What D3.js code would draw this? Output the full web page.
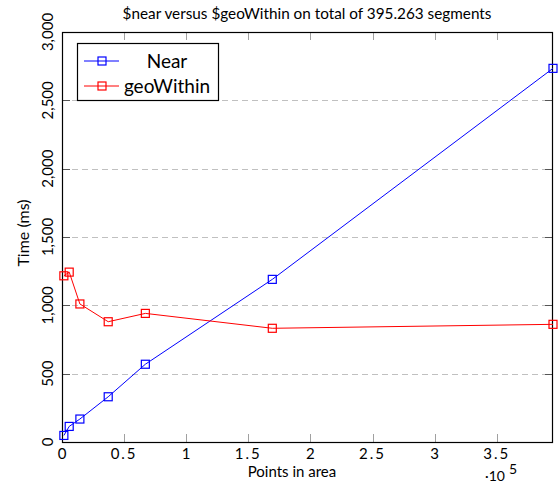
<!DOCTYPE html>
<html>
<head>
<meta charset="utf-8">
<script src="https://cdn.jsdelivr.net/npm/d3@7"></script>
<style>
  body { margin: 0; background: #fff; }
  text { font-family: Lato, "Open Sans", sans-serif; fill: #000; }
</style>
</head>
<body>
<svg id="chart" width="560" height="483"></svg>
<script>
// data
const pointsInArea = [1500, 5800, 14400, 37200, 67100, 169300, 395263];
const nearMs = [48, 114, 168, 331, 569, 1190, 2734];
const geoWithinMs = [1216, 1243, 1010, 880, 941, 832, 861];
const xTicks = [0, 50000, 100000, 150000, 200000, 250000, 300000, 350000];
const yTicks = [0, 500, 1000, 1500, 2000, 2500, 3000];
const seriesNames = ["Near", "geoWithin"];
const seriesColors = ["#0000ff", "#ff0000"];

const margin = {top: 32, right: 7, bottom: 41, left: 62};
const width = 560, height = 483;

const svg = d3.select("#chart");

const x = d3.scaleLinear()
    .domain([0, 395263])
    .range([margin.left, width - margin.right]);
const y = d3.scaleLinear()
    .domain([0, 3000])
    .range([height - margin.bottom, margin.top]);

// dashed grid
svg.append("g").selectAll("line")
    .data(yTicks.filter(d => d > 0 && d < 3000))
    .enter().append("line")
    .attr("x1", x.range()[0]).attr("x2", x.range()[1])
    .attr("y1", d => Math.round(y(d)) + 0.5).attr("y2", d => Math.round(y(d)) + 0.5)
    .attr("stroke", "#c0c0c0")
    .attr("stroke-dasharray", "6,4");

// inner tick marks (x: bottom + top, y: left + right)
const tickLen = 8;
const xt = svg.append("g").attr("stroke", "#a0a0a0");
xTicks.filter(d => d > 0).forEach(d => {
    const px = Math.round(x(d)) + 0.5;
    xt.append("line").attr("x1", px).attr("x2", px)
        .attr("y1", y.range()[0]).attr("y2", y.range()[0] - tickLen);
    xt.append("line").attr("x1", px).attr("x2", px)
        .attr("y1", y.range()[1]).attr("y2", y.range()[1] + tickLen);
});
const yt = svg.append("g").attr("stroke", "#555");
yTicks.filter(d => d > 0 && d < 3000).forEach(d => {
    const py = Math.round(y(d)) + 0.5;
    yt.append("line").attr("x1", x.range()[0]).attr("x2", x.range()[0] + tickLen)
        .attr("y1", py).attr("y2", py);
    yt.append("line").attr("x1", x.range()[1]).attr("x2", x.range()[1] - tickLen)
        .attr("y1", py).attr("y2", py);
});

// frame
svg.append("rect")
    .attr("x", x.range()[0] + 0.5).attr("y", y.range()[1] + 0.5)
    .attr("width", x.range()[1] - x.range()[0] - 1)
    .attr("height", y.range()[0] - y.range()[1])
    .attr("fill", "none").attr("stroke", "#000").attr("stroke-width", 1.2);

// tick labels
svg.append("g").selectAll("text")
    .data(xTicks)
    .enter().append("text")
    .attr("x", d => x(d)).attr("y", 459)
    .attr("text-anchor", "middle")
    .attr("font-size", 15)
    .attr("letter-spacing", d => d % 100000 ? 2 : 0)
    .text(d => d3.format("")(d / 100000));

svg.append("g").selectAll("text")
    .data(yTicks)
    .enter().append("text")
    .attr("transform", d => `translate(53,${y(d)}) rotate(-90)`)
    .attr("text-anchor", "middle")
    .attr("font-size", 15)
    .text(d => d3.format(",")(d));

// axis titles
svg.append("text")
    .attr("x", 307).attr("y", 19)
    .attr("text-anchor", "middle")
    .attr("font-size", 15.3)
    .text("$near versus $geoWithin on total of 395.263 segments");
svg.append("text")
    .attr("x", 292).attr("y", 477)
    .attr("text-anchor", "middle")
    .attr("font-size", 15)
    .text("Points in area");
svg.append("text")
    .attr("transform", "translate(29,233) rotate(-90)")
    .attr("text-anchor", "middle")
    .attr("font-size", 16)
    .text("Time (ms)");
const exp = svg.append("text").attr("x", 485).attr("y", 481).attr("font-size", 14);
exp.append("tspan").text("·10");
exp.append("tspan").attr("dx", 4).attr("dy", -7).attr("font-size", 14).text("5");

// series
const seriesData = [nearMs, geoWithinMs];
const line = d3.line()
    .x((d, i) => x(pointsInArea[i]))
    .y(d => y(d));
const mark = 8;

seriesData.forEach((vals, s) => {
    const g = svg.append("g");
    g.append("path")
        .datum(vals)
        .attr("d", line)
        .attr("fill", "none")
        .attr("stroke", seriesColors[s])
        .attr("stroke-width", 1);
    g.selectAll("rect")
        .data(vals)
        .enter().append("rect")
        .attr("x", (d, i) => x(pointsInArea[i]) - mark / 2)
        .attr("y", d => y(d) - mark / 2)
        .attr("width", mark).attr("height", mark)
        .attr("fill", "none")
        .attr("stroke", seriesColors[s])
        .attr("stroke-width", 1.2);
});

// legend
const legend = svg.append("g");
legend.append("rect")
    .attr("x", 77.5).attr("y", 43.5)
    .attr("width", 141).attr("height", 57)
    .attr("fill", "#fff").attr("stroke", "#000").attr("stroke-width", 1.2);
seriesNames.forEach((name, s) => {
    const ly = 61 + s * 25;
    legend.append("line")
        .attr("x1", 84).attr("x2", 119)
        .attr("y1", ly).attr("y2", ly)
        .attr("stroke", seriesColors[s]);
    legend.append("rect")
        .attr("x", 102 - mark / 2).attr("y", ly - mark / 2)
        .attr("width", mark).attr("height", mark)
        .attr("fill", "none").attr("stroke", seriesColors[s]).attr("stroke-width", 1.2);
    legend.append("text")
        .attr("x", 167).attr("y", ly + 7)
        .attr("text-anchor", "middle")
        .attr("font-size", 19)
        .text(name);
});
</script>
</body>
</html>
